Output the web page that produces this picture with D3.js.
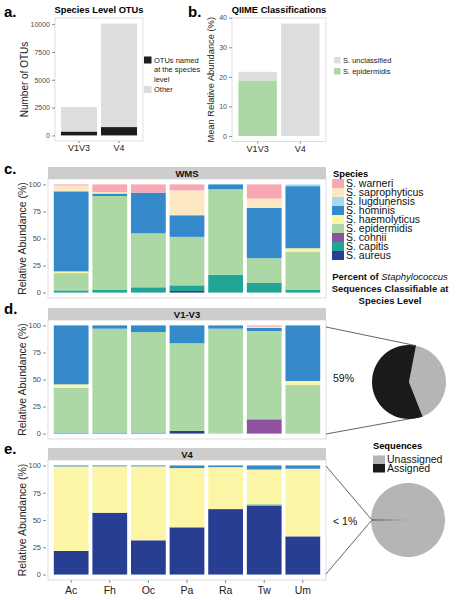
<!DOCTYPE html>
<html><head><meta charset="utf-8">
<script src="https://cdn.jsdelivr.net/npm/d3@7"></script>
<style>body{margin:0;background:#fff}svg{display:block;font-family:"Liberation Sans",Arial,Helvetica,sans-serif}</style>
</head><body><svg id="chart" width="456" height="600"></svg>
<script>
// ---------- data ----------
const otuRegions = ["V1V3", "V4"];
const otuNamed = [350, 750];
const otuOther = [2200, 9300];
const otuTicks = [0, 2500, 5000, 7500, 10000];

const qiimeEpidermidis = [18.6, 0];
const qiimeUnclassified = [3.1, 38];
const qiimeTicks = [0, 10, 20, 30, 40];

const samples = ["Ac", "Fh", "Oc", "Pa", "Ra", "Tw", "Um"];
const species = ["S. warneri", "S. saprophyticus", "S. lugdunensis", "S. hominis", "S. haemolyticus", "S. epidermidis", "S. cohnii", "S. capitis", "S. aureus"];
const speciesColors = ["#f6a9b3", "#fde8c4", "#a5dbee", "#3389c9", "#fdf5a6", "#abd8a4", "#8d51a0", "#21a596", "#273e93"];
const abundTicks = [0, 25, 50, 75, 100];

const wmsValues = {
  "S. aureus":        [0, 0, 0, 1.5, 0, 0, 0],
  "S. capitis":       [2, 2.7, 4.9, 5.2, 16.5, 8.9, 2.8],
  "S. cohnii":        [0, 0, 0, 0, 0, 0, 0],
  "S. epidermidis":   [16, 86.6, 49.9, 44.8, 79, 22.9, 35.1],
  "S. haemolyticus":  [1.6, 0, 0, 0, 0, 0, 3.1],
  "S. hominis":       [74, 2.2, 37.6, 20, 4.5, 46.5, 57.4],
  "S. lugdunensis":   [0, 0, 0, 0, 0, 0, 1.6],
  "S. saprophyticus": [5.4, 1.5, 0, 23, 0, 8.6, 0],
  "S. warneri":       [1, 7, 7.6, 5.5, 0, 13.1, 0]
};
const v1v3Values = {
  "S. aureus":        [0, 0, 0, 2.5, 0, 0, 0],
  "S. capitis":       [1, 1, 1, 0, 0, 0, 0],
  "S. cohnii":        [0, 0, 0, 0, 0, 13.2, 0],
  "S. epidermidis":   [41.5, 96, 92.8, 81, 97, 81.6, 45],
  "S. haemolyticus":  [3, 0, 0, 0, 0, 0, 3.6],
  "S. hominis":       [54.5, 3, 6.2, 16.5, 3, 2.8, 51.4],
  "S. lugdunensis":   [0, 0, 0, 0, 0, 0, 0],
  "S. saprophyticus": [0, 0, 0, 0, 0, 1.2, 0],
  "S. warneri":       [0, 0, 0, 0, 0, 1.2, 0]
};
const v4Values = {
  "S. aureus":        [21.6, 56.7, 31.4, 43.3, 60, 63.4, 35],
  "S. capitis":       [0, 0, 0, 0, 0, 0, 0],
  "S. cohnii":        [0, 0, 0, 0, 0, 0, 0],
  "S. epidermidis":   [0, 0, 0, 0, 0, 1.6, 0],
  "S. haemolyticus":  [77.5, 42.5, 67.8, 54.3, 38.5, 31.3, 62],
  "S. hominis":       [0.9, 0.8, 0.8, 2.4, 1.5, 3.7, 3],
  "S. lugdunensis":   [0, 0, 0, 0, 0, 0, 0],
  "S. saprophyticus": [0, 0, 0, 0, 0, 0, 0],
  "S. warneri":       [0, 0, 0, 0, 0, 0, 0]
};

const seqLabels = ["Unassigned", "Assigned"];
const seqColors = ["#b5b5b5", "#1a1a1a"];
const pieV1V3 = [41, 59];   // unassigned, assigned
const pieV4 = [99.5, 0.5];  // unassigned, assigned
const pieV1V3Text = "59%";
const pieV4Text = "< 1%";

// ---------- drawing ----------
const svg = d3.select("#chart");
const FONT_TICK = "#4d4d4d";
const PANEL_BORDER = "#d0d0d0";
const color = d3.scaleOrdinal().domain(species).range(speciesColors);

function panelLabel(txt, x, y) {
  svg.append("text").attr("x", x).attr("y", y).attr("font-size", 15).attr("font-weight", "bold").text(txt);
}
function yTitle(txt, x, cy, size) {
  svg.append("text").attr("transform", `translate(${x},${cy}) rotate(-90)`)
    .attr("text-anchor", "middle").attr("font-size", size).attr("fill", "#222").text(txt);
}
function styleAxis(g, fs) {
  g.select(".domain").remove();
  g.selectAll(".tick line").attr("stroke", "#444").attr("stroke-width", 0.6);
  g.selectAll(".tick text").attr("font-size", fs).attr("fill", FONT_TICK).attr("font-family", null);
}

// ----- panel a -----
panelLabel("a.", 4, 17);
{
  const L = 55, R = 143, T = 18, B = 141;
  const totals = otuNamed.map((v, i) => v + otuOther[i]);
  const mx = d3.max(totals);
  const x = d3.scaleBand().domain(otuRegions).range([L, R]).paddingInner(0.1).paddingOuter(0.15);
  const y = d3.scaleLinear().domain([-0.05 * mx, 1.05 * mx]).range([B, T]);
  svg.append("rect").attr("x", L).attr("y", T).attr("width", R - L).attr("height", B - T)
    .attr("fill", "#fff").attr("stroke", PANEL_BORDER).attr("stroke-width", 0.7);
  const rows = otuRegions.map((r, i) => ({ region: r, named: otuNamed[i], other: otuOther[i] }));
  const st = d3.stack().keys(["named", "other"])(rows);
  const fills = { named: "#1c1c1c", other: "#dcdddd" };
  st.forEach(layer => {
    svg.append("g").selectAll("rect").data(layer).join("rect")
      .attr("x", d => x(d.data.region)).attr("width", x.bandwidth())
      .attr("y", d => y(d[1])).attr("height", d => y(d[0]) - y(d[1]))
      .attr("fill", fills[layer.key]);
  });
  const ya = svg.append("g").attr("transform", `translate(${L},0)`)
    .call(d3.axisLeft(y).tickValues(otuTicks).tickFormat(d3.format("d")).tickSize(3).tickPadding(2));
  styleAxis(ya, 7);
  const xa = svg.append("g").attr("transform", `translate(0,${B})`)
    .call(d3.axisBottom(x).tickSize(2).tickPadding(2));
  styleAxis(xa, 9);
  xa.selectAll(".tick text").attr("fill", "#222");
  svg.append("text").attr("x", (L + R) / 2).attr("y", 13).attr("text-anchor", "middle")
    .attr("font-size", 9.3).attr("font-weight", "bold").text("Species Level OTUs");
  yTitle("Number of OTUs", 28, (T + B) / 2, 10);
  // legend
  const lg = svg.append("g").attr("font-size", 7.5).attr("fill", "#222");
  lg.append("rect").attr("x", 144).attr("y", 56.5).attr("width", 7.5).attr("height", 7).attr("fill", fills.named);
  ["OTUs named", "at the species", "level"].forEach((t, i) =>
    lg.append("text").attr("x", 154).attr("y", 62.5 + i * 9.5).text(t));
  lg.append("rect").attr("x", 144).attr("y", 86).attr("width", 7.5).attr("height", 7).attr("fill", fills.other);
  lg.append("text").attr("x", 154).attr("y", 92).text("Other");
}

// ----- panel b -----
panelLabel("b.", 188, 17);
{
  const L = 232, R = 326, T = 18, B = 141.6;
  const totals = qiimeEpidermidis.map((v, i) => v + qiimeUnclassified[i]);
  const mx = d3.max(totals);
  const x = d3.scaleBand().domain(otuRegions).range([L, R]).paddingInner(0.1).paddingOuter(0.15);
  const y = d3.scaleLinear().domain([-0.05 * mx, 1.05 * mx]).range([B, T]);
  svg.append("rect").attr("x", L).attr("y", T).attr("width", R - L).attr("height", B - T)
    .attr("fill", "#fff").attr("stroke", PANEL_BORDER).attr("stroke-width", 0.7);
  const rows = otuRegions.map((r, i) => ({ region: r, epi: qiimeEpidermidis[i], unc: qiimeUnclassified[i] }));
  const st = d3.stack().keys(["epi", "unc"])(rows);
  const fills = { epi: "#abd8a4", unc: "#dcdddd" };
  st.forEach(layer => {
    svg.append("g").selectAll("rect").data(layer).join("rect")
      .attr("x", d => x(d.data.region)).attr("width", x.bandwidth())
      .attr("y", d => y(d[1])).attr("height", d => y(d[0]) - y(d[1]))
      .attr("fill", fills[layer.key]);
  });
  const ya = svg.append("g").attr("transform", `translate(${L},0)`)
    .call(d3.axisLeft(y).tickValues(qiimeTicks).tickSize(3).tickPadding(2));
  styleAxis(ya, 7);
  const xa = svg.append("g").attr("transform", `translate(0,${B})`)
    .call(d3.axisBottom(x).tickSize(2).tickPadding(2));
  styleAxis(xa, 9);
  xa.selectAll(".tick text").attr("fill", "#222");
  svg.append("text").attr("x", (L + R) / 2).attr("y", 13).attr("text-anchor", "middle")
    .attr("font-size", 9.3).attr("font-weight", "bold").text("QIIME Classifications");
  yTitle("Mean Relative Abundance (%)", 214, (T + B) / 2, 9.3);
  const lg = svg.append("g").attr("font-size", 7.5).attr("fill", "#222");
  lg.append("rect").attr("x", 334).attr("y", 57).attr("width", 6.5).attr("height", 6.5).attr("fill", fills.unc);
  lg.append("text").attr("x", 343).attr("y", 63).text("S. unclassified");
  lg.append("rect").attr("x", 334).attr("y", 68).attr("width", 6.5).attr("height", 6.5).attr("fill", fills.epi);
  lg.append("text").attr("x", 343).attr("y", 74).text("S. epidermidis");
}

// ----- facet panels c, d, e -----
const FL = 48, FR = 326;
const xF = d3.scaleBand().domain(samples).range([FL, FR]).paddingInner(0.1).paddingOuter(0.15);
const stackKeys = species.slice().reverse();

function facet(title, values, stripTop, B, showX) {
  const T = stripTop + 12;
  svg.append("rect").attr("x", FL).attr("y", stripTop).attr("width", FR - FL).attr("height", 12).attr("fill", "#cdcdcd");
  svg.append("text").attr("x", (FL + FR) / 2).attr("y", stripTop + 9.5).attr("text-anchor", "middle")
    .attr("font-size", 9.5).attr("font-weight", "bold").attr("fill", "#111").text(title);
  svg.append("rect").attr("x", FL).attr("y", T).attr("width", FR - FL).attr("height", B - T)
    .attr("fill", "#fff").attr("stroke", PANEL_BORDER).attr("stroke-width", 0.7);
  const y = d3.scaleLinear().domain([-5, 105]).range([B, T]);
  const rows = samples.map((s, i) => {
    const o = { sample: s };
    species.forEach(sp => o[sp] = values[sp][i]);
    return o;
  });
  const st = d3.stack().keys(stackKeys)(rows);
  st.forEach(layer => {
    svg.append("g").selectAll("rect").data(layer.filter(d => d[1] - d[0] > 0)).join("rect")
      .attr("x", d => xF(d.data.sample)).attr("width", xF.bandwidth())
      .attr("y", d => y(d[1])).attr("height", d => y(d[0]) - y(d[1]))
      .attr("fill", color(layer.key));
  });
  const ya = svg.append("g").attr("transform", `translate(${FL - 2},0)`)
    .call(d3.axisLeft(y).tickValues(abundTicks).tickSize(3).tickPadding(2));
  styleAxis(ya, 7.5);
  if (showX) {
    const xa = svg.append("g").attr("transform", `translate(0,${B})`)
      .call(d3.axisBottom(xF).tickSize(3).tickPadding(4));
    styleAxis(xa, 10.5);
    xa.selectAll(".tick text").attr("fill", "#222");
  }
  yTitle("Relative Abundance (%)", 26, (T + B) / 2, 10.5);
  return { T, B };
}

panelLabel("c.", 4, 174);
facet("WMS", wmsValues, 167, 298, false);
panelLabel("d.", 4, 314);
const dBox = facet("V1-V3", v1v3Values, 308, 439, false);
panelLabel("e.", 4, 454);
const eBox = facet("V4", v4Values, 448, 580, true);

// ----- species legend -----
{
  const lg = svg.append("g");
  lg.append("text").attr("x", 333).attr("y", 176.5).attr("font-size", 9.3).attr("font-weight", "bold").text("Species");
  species.forEach((sp, i) => {
    lg.append("rect").attr("x", 332).attr("y", 179 + i * 9).attr("width", 12).attr("height", 9).attr("fill", color(sp));
    lg.append("text").attr("x", 346).attr("y", 186.8 + i * 9).attr("font-size", 10.5).attr("fill", "#111").text(sp);
  });
}

// ----- "Percent of Staphylococcus ..." heading -----
{
  const cx = 390;
  const t1 = svg.append("text").attr("x", cx).attr("y", 280).attr("text-anchor", "middle").attr("font-size", 9.5).attr("fill", "#111");
  t1.append("tspan").attr("font-weight", "bold").text("Percent of ");
  t1.append("tspan").attr("font-style", "italic").text("Staphylococcus");
  svg.append("text").attr("x", cx).attr("y", 292).attr("text-anchor", "middle").attr("font-size", 9.5)
    .attr("font-weight", "bold").attr("fill", "#111").text("Sequences Classifiable at");
  svg.append("text").attr("x", cx).attr("y", 304).attr("text-anchor", "middle").attr("font-size", 9.5)
    .attr("font-weight", "bold").attr("fill", "#111").text("Species Level");
}

// ----- pies -----
function pt(cx, cy, r, a) { return [cx + r * Math.sin(a), cy - r * Math.cos(a)]; }
const arc = d3.arc().innerRadius(0);

// pie d
{
  const cx = 409, cy = 382, r = 37;
  const start = 0.19;
  const pie = d3.pie().sort(null).startAngle(start).endAngle(start + 2 * Math.PI);
  const arcs = pie(pieV1V3);
  svg.append("g").attr("transform", `translate(${cx},${cy})`).selectAll("path").data(arcs).join("path")
    .attr("d", d => arc.outerRadius(r)(d)).attr("fill", (d, i) => seqColors[i]);
  const p1 = pt(cx, cy, r, arcs[0].startAngle), p2 = pt(cx, cy, r, arcs[0].endAngle);
  svg.append("line").attr("x1", FR).attr("y1", dBox.T + 7).attr("x2", p1[0]).attr("y2", p1[1]).attr("stroke", "#222").attr("stroke-width", 0.7);
  svg.append("line").attr("x1", FR).attr("y1", dBox.B - 5).attr("x2", p2[0]).attr("y2", p2[1]).attr("stroke", "#222").attr("stroke-width", 0.7);
  svg.append("text").attr("x", 333).attr("y", 382).attr("font-size", 10.5).attr("fill", "#111").text(pieV1V3Text);
}
// pie e
{
  const cx = 408, cy = 520, r = 37;
  const assignedFrac = pieV4[1] / (pieV4[0] + pieV4[1]);
  const start = 1.5 * Math.PI + assignedFrac * Math.PI;
  const pie = d3.pie().sort(null).startAngle(start).endAngle(start + 2 * Math.PI);
  const arcs = pie(pieV4);
  svg.append("g").attr("transform", `translate(${cx},${cy})`).selectAll("path").data(arcs).join("path")
    .attr("d", d => arc.outerRadius(r)(d)).attr("fill", (d, i) => seqColors[i]);
  const mid = (arcs[1].startAngle + arcs[1].endAngle) / 2;
  const p = pt(cx, cy, r, mid);
  svg.append("line").attr("x1", FR).attr("y1", eBox.T + 6).attr("x2", p[0]).attr("y2", p[1] - 1).attr("stroke", "#222").attr("stroke-width", 0.7);
  svg.append("line").attr("x1", FR).attr("y1", eBox.B - 6).attr("x2", p[0]).attr("y2", p[1] + 1).attr("stroke", "#222").attr("stroke-width", 0.7);
  svg.append("text").attr("x", 333).attr("y", 525).attr("font-size", 10.5).attr("fill", "#111").text(pieV4Text);
}

// ----- sequences legend -----
{
  const lg = svg.append("g");
  lg.append("text").attr("x", 373).attr("y", 449).attr("font-size", 9.3).attr("font-weight", "bold").text("Sequences");
  seqLabels.forEach((l, i) => {
    lg.append("rect").attr("x", 373).attr("y", 455.5 + i * 8.5).attr("width", 12).attr("height", 8.5).attr("fill", seqColors[i]);
    lg.append("text").attr("x", 387).attr("y", 463 + i * 8.5).attr("font-size", 10.5).attr("fill", "#111").text(l);
  });
}
</script></body></html>
